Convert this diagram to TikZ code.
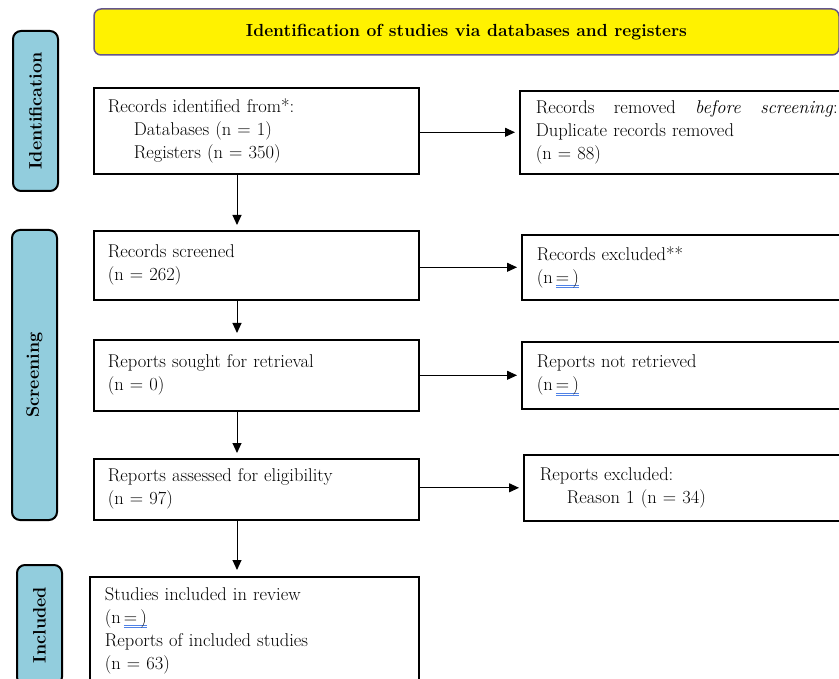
\documentclass[tikz,border=0pt]{standalone}
\usepackage{fontspec}
\usetikzlibrary{arrows.meta}
\definecolor{sideblue}{RGB}{146,205,221}
\definecolor{hdrborder}{RGB}{100,85,140}
\definecolor{ulblue}{RGB}{80,130,230}
\newcommand\dblul[1]{\setbox0\hbox{#1}\rlap{\color{ulblue}\rule[-2.6pt]{\wd0}{0.8pt}}\rlap{\color{ulblue}\rule[-4.6pt]{\wd0}{0.8pt}}\box0}
\begin{document}
\begin{tikzpicture}[x=1pt,y=-1pt,
  txt/.style={font=\fontsize{18.5}{23}\selectfont},
  box/.style={txt,draw=black,line width=1.6pt,anchor=north west,inner ysep=0pt,align=left},
  side/.style={draw=black,line width=2pt,fill=sideblue,rounded corners=8pt,rotate=90,
    minimum height=45pt,inner sep=0pt,font=\bfseries\fontsize{18}{20}\selectfont},
  arr/.style={line width=1pt,-{Triangle[length=10pt,width=9pt]}}]
\useasboundingbox (0,0) rectangle (839,679);
\clip (0,0) rectangle (839,679);

% header
\node[draw=hdrborder,line width=1.5pt,fill=yellow,rounded corners=7pt,
  minimum width=745pt,minimum height=46pt,inner sep=0pt,
  font=\bfseries\fontsize{17.5}{20}\selectfont] (hdr) at (466.5,32)
  {Identification of studies via databases and registers};

% side labels
\node[side,minimum width=160pt] (sid) at (35.5,111) {Identification};
\node[side,minimum width=290pt] (sscr) at (34.5,375) {Screening};
\node[side,minimum width=120pt] (sinc) at (39.5,625) {Included};

% left column
\node[box,inner xsep=14pt,text width=297pt,minimum height=86pt] (b1) at (93,87)
  {Records identified from*:\\\hspace*{26pt}Databases (n = 1)\\\hspace*{26pt}Registers (n = 350)};
\node[box,inner xsep=14pt,text width=297pt,minimum height=69pt] (b2) at (93,230)
  {Records screened\\(n = 262)};
\node[box,inner xsep=14pt,text width=297pt,minimum height=71pt] (b3) at (93,339)
  {Reports sought for retrieval\\(n = 0)};
\node[box,inner xsep=14pt,text width=297pt,minimum height=61pt] (b4) at (93,458)
  {Reports assessed for eligibility\\(n = 97)};
\node[box,inner xsep=15pt,text width=299pt,minimum height=108pt] (b5) at (89,576)
  {Studies included in review\\(n\,\dblul{=\,)}\\Reports of included studies\\(n = 63)};

% right column
\node[box,inner xsep=16pt,text width=302pt,minimum height=83pt] (r1) at (519,90)
  {\hbox to 302pt{Records\hfill removed\hfill\textit{before}\hfill\textit{screening}:}\\Duplicate records removed\\(n = 88)};
\node[box,inner xsep=15pt,text width=304pt,minimum height=65pt] (r2) at (521,234)
  {Records excluded**\\(n\,\dblul{=\,)}};
\node[box,inner xsep=15pt,text width=304pt,minimum height=67pt] (r3) at (521,341)
  {Reports not retrieved\\(n\,\dblul{=\,)}};
\node[box,inner xsep=16pt,text width=302pt,minimum height=66pt] (r4) at (523,454)
  {Reports excluded:\\\hspace*{27pt}Reason 1 (n = 34)};

% connectors
\coordinate (ax) at (237,0);
\draw[arr,shorten >=5pt] (b1.south -| ax) -- (b2.north -| ax);
\draw[arr,shorten >=6pt] (b2.south -| ax) -- (b3.north -| ax);
\draw[arr,shorten >=5pt] (b3.south -| ax) -- (b4.north -| ax);
\draw[arr,shorten >=6pt] (b4.south -| ax) -- (b5.north -| ax);
\draw[arr,shorten >=4pt] (b1.east |- r1.west) -- (r1.west);
\draw[arr,shorten >=4pt] (b2.east |- r2.west) -- (r2.west);
\draw[arr,shorten >=4pt] (b3.east |- r3.west) -- (r3.west);
\draw[arr,shorten >=4pt] (b4.east |- r4.west) -- (r4.west);
\end{tikzpicture}
\end{document}
